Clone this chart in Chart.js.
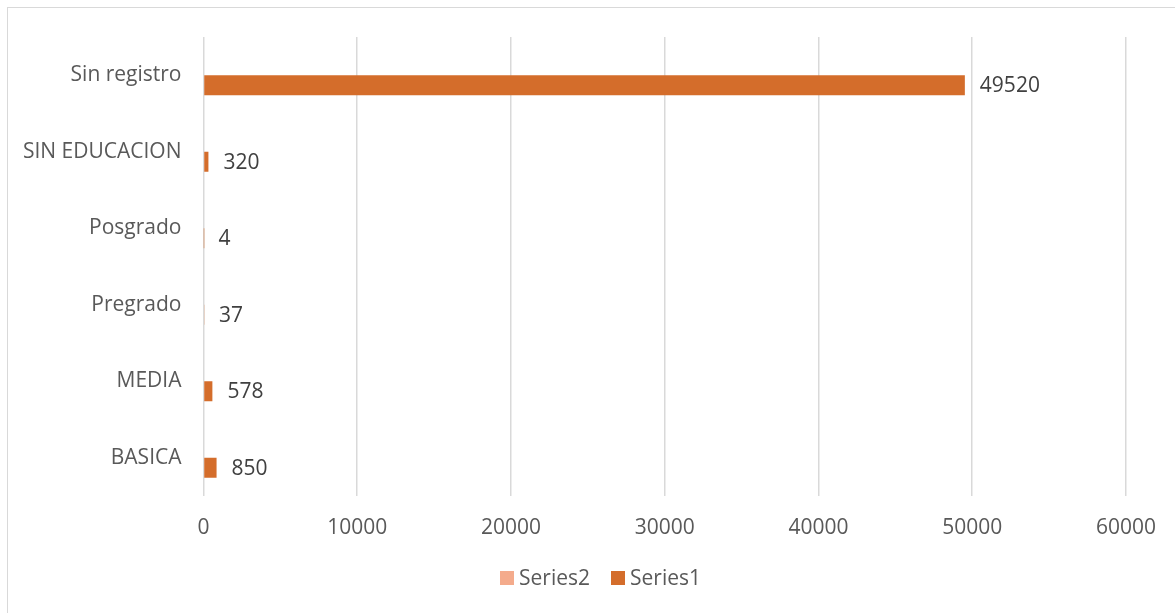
<!DOCTYPE html>
<html>
<head>
<meta charset="utf-8">
<script src="https://cdn.jsdelivr.net/npm/chart.js@4/dist/chart.umd.min.js"></script>
<style>
  body { margin: 0; background: #fff; }
  #wrap { position: relative; width: 1175px; height: 613px; }
  #frame { position: absolute; left: 7px; top: 7px; width: 1180px; height: 620px; border: 1.5px solid #d9d9d9; box-sizing: border-box; }
  canvas { position: absolute; left: 0; top: 0; }
</style>
</head>
<body>
<div id="wrap">
  <div id="frame"></div>
  <canvas id="chart1" width="1175" height="613"></canvas>
</div>
<script>
const categories = ['Sin registro', 'SIN EDUCACION', 'Posgrado', 'Pregrado', 'MEDIA', 'BASICA'];
const series1 = [49520, 320, 4, 37, 578, 850];
const series2 = [0, 0, 0, 0, 0, 0];
const xTicks = [0, 10000, 20000, 30000, 40000, 50000, 60000];

const font = "'Open Sans', 'DejaVu Sans', sans-serif";

// value labels to the right of each Series1 bar
const barLabels = {
  id: 'barLabels',
  afterDatasetsDraw(chart) {
    const ctx = chart.ctx;
    const meta = chart.getDatasetMeta(1);
    ctx.save();
    ctx.font = '21px ' + font;
    ctx.fillStyle = '#404040';
    ctx.textAlign = 'left';
    ctx.textBaseline = 'middle';
    meta.data.forEach((bar, i) => {
      ctx.fillText(String(series1[i]), bar.x + 15, bar.y + 1);
    });
    ctx.restore();
  }
};

// legend under the axis, small square then the name, like the office style
const bottomLegend = {
  id: 'bottomLegend',
  afterDraw(chart) {
    const ctx = chart.ctx;
    const items = chart.data.datasets.map(ds => ({ text: ds.label, color: ds.backgroundColor }));
    ctx.save();
    ctx.font = '21px ' + font;
    ctx.textBaseline = 'middle';
    ctx.textAlign = 'left';
    const box = 14, gapText = 5, gapItem = 21;
    let total = 0;
    items.forEach((it, i) => {
      it.w = box + gapText + ctx.measureText(it.text).width;
      total += it.w + (i ? gapItem : 0);
    });
    let x = 600.5 - total / 2;
    const y = 578;
    items.forEach(it => {
      ctx.fillStyle = it.color;
      ctx.fillRect(x, y - box / 2, box, box);
      ctx.fillStyle = '#595959';
      ctx.fillText(it.text, x + box + gapText, y + 1);
      x += it.w + gapItem;
    });
    ctx.restore();
  }
};

const ctx = document.getElementById('chart1');

new Chart(ctx, {
  type: 'bar',
  data: {
    labels: categories,
    datasets: [{
      label: 'Series2',
      data: series2,
      backgroundColor: '#F4AB8C',
      borderWidth: 0
    }, {
      label: 'Series1',
      data: series1,
      backgroundColor: '#D46D2B',
      borderWidth: 0
    }]
  },
  options: {
    indexAxis: 'y',
    responsive: false,
    animation: false,
    categoryPercentage: 0.524,
    barPercentage: 1,
    layout: {
      padding: { top: 37, right: 49, bottom: 55, left: 0 }
    },
    scales: {
      x: {
        min: 0,
        max: 60000,
        afterBuildTicks(scale) {
          scale.ticks = xTicks.map(v => ({ value: v }));
        },
        afterFit(scale) { scale.height = 62; },
        grid: { color: '#d9d9d9', lineWidth: 1.5, drawTicks: false },
        border: { display: false },
        ticks: {
          color: '#595959',
          font: { family: font, size: 21 },
          padding: 19,
          maxRotation: 0,
          callback: v => String(v)
        }
      },
      y: {
        afterFit(scale) { scale.width = 203.5; },
        grid: { display: false, drawTicks: false },
        border: { display: false },
        ticks: {
          color: '#595959',
          font: { family: font, size: 21 },
          padding: 22
        }
      }
    },
    plugins: {
      legend: { display: false },
      tooltip: { enabled: false }
    }
  },
  plugins: [barLabels, bottomLegend]
});
</script>
</body>
</html>
